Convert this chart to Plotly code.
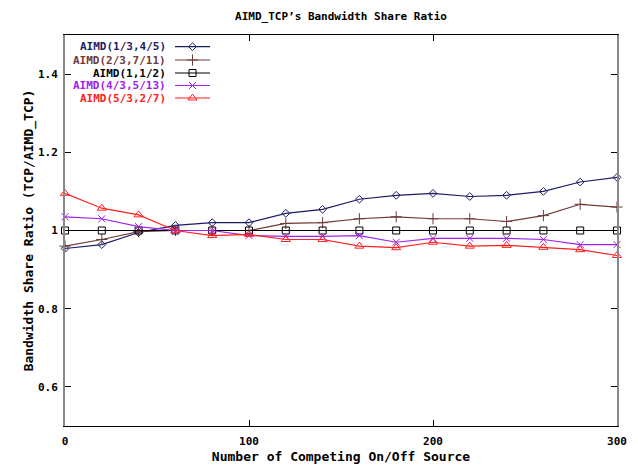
import plotly.graph_objects as go

x_sources = [0, 20, 40, 60, 80, 100, 120, 140, 160, 180, 200, 220, 240, 260, 280, 300]

aimd_1_3_4_5 = [0.954, 0.964, 0.995, 1.013, 1.020, 1.020, 1.044, 1.054, 1.080, 1.090, 1.095, 1.087, 1.090, 1.100, 1.124, 1.136]
aimd_2_3_7_11 = [0.960, 0.977, 0.997, 1.000, 1.000, 1.000, 1.018, 1.020, 1.030, 1.035, 1.030, 1.030, 1.023, 1.038, 1.067, 1.060]
aimd_1_1_2 = [1.0] * 16
aimd_4_3_5_13 = [1.035, 1.030, 1.010, 1.000, 1.000, 0.987, 0.985, 0.985, 0.987, 0.970, 0.980, 0.980, 0.980, 0.977, 0.964, 0.964]
aimd_5_3_2_7 = [1.095, 1.057, 1.040, 1.000, 0.987, 0.990, 0.977, 0.977, 0.960, 0.956, 0.970, 0.960, 0.962, 0.957, 0.951, 0.936]

series_names = ["AIMD(1/3,4/5)", "AIMD(2/3,7/11)", "AIMD(1,1/2)", "AIMD(4/3,5/13)", "AIMD(5/3,2/7)"]
series_values = [aimd_1_3_4_5, aimd_2_3_7_11, aimd_1_1_2, aimd_4_3_5_13, aimd_5_3_2_7]
colors = ["#1c1c64", "#6e3a3a", "#000000", "#a020f0", "#ff2020"]
symbols = ["diamond-open", "cross-thin-open", "square-open", "x-thin-open", "triangle-up-open"]
sizes = [6, 8, 7, 7, 8]

y_tick_vals = [0.6, 0.8, 1.0, 1.2, 1.4]
y_tick_text = ["0.6", "0.8", "1", "1.2", "1.4"]
x_tick_vals = [0, 100, 200, 300]

FONT = "DejaVu Sans Mono"
FS = 11
OFF = 8  # default body margin of the html page

fig = go.Figure()
for name, vals, c, s, sz in zip(series_names, series_values, colors, symbols, sizes):
    fig.add_trace(go.Scatter(
        x=x_sources, y=vals, mode="lines+markers", name=name,
        line=dict(color=c, width=1.2),
        marker=dict(symbol=s, size=sz, color=c, line=dict(color=c, width=1)),
        showlegend=False, cliponaxis=False,
    ))

# legend (text on left, sample on right, like gnuplot)
W, H = 552.0, 391.0
row_px = [46.7, 60.0, 73.0, 85.5, 98.0]
for i, (name, c, s, sz) in enumerate(zip(series_names, colors, symbols, sizes)):
    yp = (426 - row_px[i]) / H
    fig.add_annotation(x=(168 - 65) / W, y=yp, xref="paper", yref="paper",
                       text=name, showarrow=False, xanchor="right", yanchor="middle",
                       font=dict(family=FONT, size=FS, color=c, weight="bold"))
    fig.add_trace(go.Scatter(
        x=[(175 - 65) / W, (210 - 65) / W], y=[yp, yp], xaxis="x2", yaxis="y2",
        mode="lines", line=dict(color=c, width=1.2), showlegend=False, hoverinfo="skip"))
    fig.add_trace(go.Scatter(
        x=[(192.5 - 65) / W], y=[yp], xaxis="x2", yaxis="y2",
        mode="markers", marker=dict(symbol=s, size=sz, color=c, line=dict(color=c, width=1)),
        showlegend=False, hoverinfo="skip"))

FW, FH = 638 - OFF, 466 - OFF
fig.update_layout(
    width=FW, height=FH,
    margin=dict(l=65 - OFF, r=FW - (617 - OFF), t=35 - OFF, b=FH - (426 - OFF), autoexpand=False),
    paper_bgcolor="white", plot_bgcolor="white",
    font=dict(family=FONT, size=FS, color="black", weight="bold"),
    title=dict(text="AIMD_TCP\u2019s Bandwidth Share Ratio", x=0.5, xanchor="center",
               xref="paper", y=1 - (16 - OFF) / FH, yanchor="middle",
               font=dict(family=FONT, size=FS, color="black", weight="bold")),
    xaxis=dict(range=[0, 300], tickvals=x_tick_vals, ticks="inside", ticklen=6,
               tickcolor="black", showline=True, linecolor="black", linewidth=1,
               mirror="allticks", showgrid=False, zeroline=False, automargin=False,
               ticklabelstandoff=5,
               title=dict(text="Number of Competing On/Off Source", standoff=4),
               tickfont=dict(size=FS)),
    yaxis=dict(range=[0.5, 1.5], tickvals=y_tick_vals, ticktext=y_tick_text,
               ticks="inside", ticklen=6, tickcolor="black", showline=True,
               linecolor="#888888", linewidth=2, mirror="allticks", showgrid=False,
               zeroline=False, automargin=False, ticklabelstandoff=3,
               title=dict(text="Bandwidth Share Ratio (TCP/AIMD_TCP)", standoff=1),
               tickfont=dict(size=FS)),
    xaxis2=dict(overlaying="x", range=[0, 1], visible=False, automargin=False),
    yaxis2=dict(overlaying="y", range=[0, 1], visible=False, automargin=False),
)

fig.write_html("out.html")
